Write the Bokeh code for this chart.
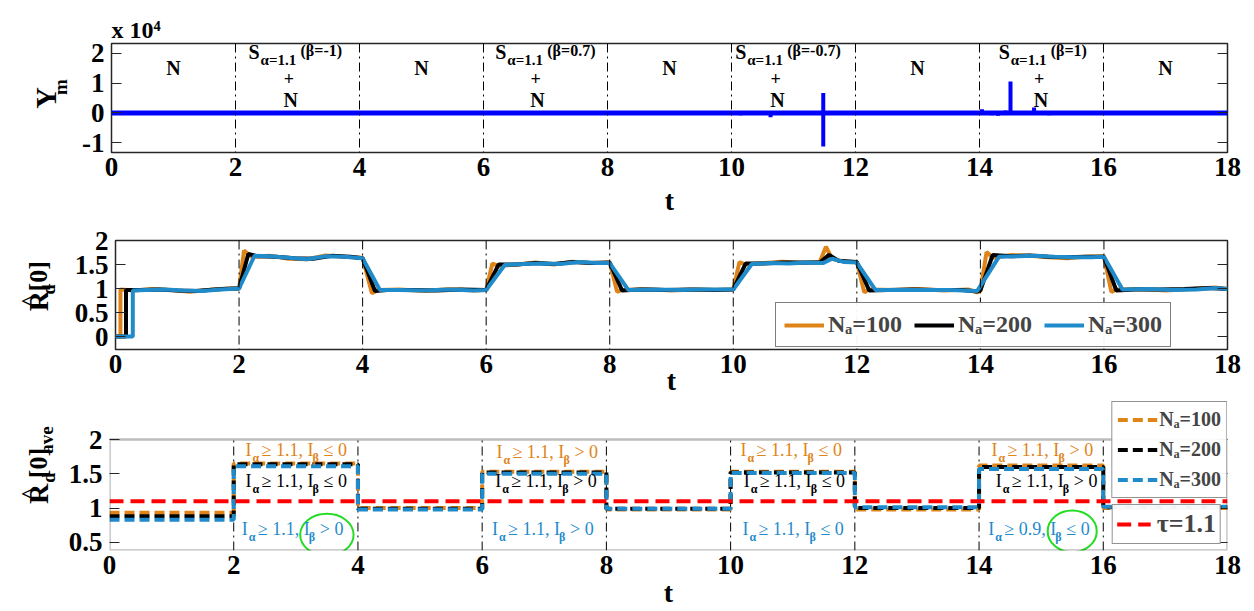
import math
from bokeh.plotting import figure
from bokeh.layouts import column, row
from bokeh.models import (Range1d, LinearAxis, Legend, LegendItem, Span, BoxAnnotation, Title,
                          FixedTicker, NumeralTickFormatter, CustomJSTickFormatter)
from bokeh.core.properties import value
from bokeh.embed import file_html
from bokeh.resources import INLINE

# ---------------- data ----------------
t_ticks = [0, 2, 4, 6, 8, 10, 12, 14, 16, 18]
boundaries = [2, 4, 6, 8, 10, 12, 14, 16]

# panel 1 : Y_m  (units of 10^4)
ym_ticks = [-1, 0, 1, 2]
ym_base_t = [0, 18]
ym_base_v = [0, 0]
spike_t = [6.05, 6.12, 6.2, 6.9, 7.0, 7.15, 7.3, 7.45, 7.6, 7.75, 7.95,
           10.15, 10.3, 10.45, 10.63, 10.8, 11.48,
           14.04, 14.2, 14.3, 14.42, 14.5, 14.6, 14.88, 15.0, 15.12, 15.55, 15.75, 15.9]
spike_lo = [-0.06, -0.05, -0.06, -0.05, -0.06, -0.07, -0.05, -0.06, -0.05, -0.06, -0.05,
            -0.08, -0.05, -0.06, -0.15, -0.07, -1.13,
            0.0, -0.08, -0.1, 0.0, 0.0, -0.06, 0.0, -0.06, -0.08, -0.07, -0.07, -0.05]
spike_hi = [0.02, 0.0, 0.02, 0.03, 0.0, 0.02, 0.0, 0.02, 0.0, 0.02, 0.03,
            0.0, 0.02, 0.0, 0.0, 0.02, 0.67,
            0.12, 0.0, 0.0, 0.08, 1.05, 0.0, 0.18, 0.0, 0.0, 0.0, 0.0, 0.02]
n_label_t = [1, 5, 9, 13, 17]
s_label_t = [2.21, 6.19, 10.06, 14.31]
s_beta = ["(β=-1)", "(β=0.7)", "(β=-0.7)", "(β=1)"]

# panel 2 : R_d[0]
rd_ticks = [0, 0.5, 1, 1.5, 2]
t_100 = [0, 0.08, 0.08, 0.3, 0.6, 0.9, 1.2, 1.5, 1.8, 2.0, 2.08, 2.2, 2.5, 2.8, 3.1, 3.4, 3.7, 4.0, 4.15, 4.25,
         4.6, 5.0, 5.4, 5.8, 6.0, 6.1, 6.2, 6.5, 6.8, 7.1, 7.4, 7.7, 8.0, 8.12, 8.2, 8.6, 9.0, 9.4, 9.8, 10.0,
         10.1, 10.2, 10.5, 10.8, 11.1, 11.4, 11.5, 11.6, 11.8, 12.0, 12.12, 12.2, 12.6, 13.0, 13.4, 13.8, 13.95, 14.0, 14.1, 14.2,
         14.5, 14.8, 15.1, 15.4, 15.7, 16.0, 16.12, 16.2, 16.6, 17.0, 17.4, 17.8, 18.0]
r_100 = [0, 0, 0.98, 0.96, 0.99, 0.97, 0.93, 0.97, 1.0, 1.0, 1.79, 1.66, 1.68, 1.62, 1.61, 1.69, 1.66, 1.64, 0.90, 0.97,
         0.98, 0.95, 0.99, 0.96, 0.97, 1.52, 1.47, 1.50, 1.54, 1.50, 1.56, 1.53, 1.54, 0.93, 0.97, 0.99, 0.96, 0.98, 0.97, 0.98,
         1.55, 1.50, 1.53, 1.56, 1.53, 1.55, 1.87, 1.62, 1.56, 1.55, 0.92, 0.98, 0.97, 0.99, 0.96, 0.98, 0.92, 0.95, 1.76, 1.64,
         1.70, 1.68, 1.65, 1.63, 1.66, 1.67, 0.93, 0.98, 0.99, 0.96, 0.99, 1.02, 0.99]
t_200 = [0, 0.17, 0.17, 0.4, 0.7, 1.0, 1.3, 1.6, 1.9, 2.0, 2.15, 2.3, 2.6, 2.9, 3.2, 3.5, 3.8, 4.0, 4.2, 4.4,
         4.8, 5.2, 5.6, 6.0, 6.2, 6.5, 6.8, 7.1, 7.4, 7.7, 8.0, 8.2, 8.5, 8.9, 9.3, 9.7, 10.0, 10.2, 10.5, 10.8,
         11.1, 11.4, 11.55, 11.7, 12.0, 12.2, 12.5, 12.9, 13.3, 13.7, 13.95, 14.0, 14.2, 14.5, 14.8, 15.1, 15.4, 15.7, 16.0, 16.2,
         16.5, 16.9, 17.3, 17.7, 18.0]
r_200 = [0, 0, 0.97, 0.97, 0.98, 0.96, 0.95, 0.98, 1.0, 1.0, 1.72, 1.67, 1.66, 1.63, 1.62, 1.68, 1.66, 1.63, 0.95, 0.97,
         0.97, 0.96, 0.98, 0.97, 1.50, 1.50, 1.53, 1.51, 1.55, 1.53, 1.54, 0.96, 0.98, 0.97, 0.98, 0.97, 0.98, 1.52, 1.52, 1.54,
         1.54, 1.54, 1.70, 1.58, 1.55, 0.96, 0.97, 0.98, 0.97, 0.97, 0.94, 0.96, 1.70, 1.67, 1.69, 1.66, 1.65, 1.66, 1.66, 0.96,
         0.98, 0.98, 0.99, 1.01, 0.99]
t_300 = [0, 0.28, 0.28, 0.5, 0.8, 1.1, 1.4, 1.7, 2.0, 2.25, 2.5, 2.8, 3.1, 3.4, 3.7, 4.0, 4.28, 4.6, 5.0, 5.4,
         5.8, 6.0, 6.3, 6.6, 6.9, 7.2, 7.5, 7.8, 8.0, 8.3, 8.7, 9.1, 9.5, 10.0, 10.3, 10.6, 10.9, 11.2, 11.45, 11.6,
         11.8, 12.0, 12.3, 12.7, 13.1, 13.5, 13.95, 14.3, 14.6, 14.9, 15.2, 15.5, 15.8, 16.0, 16.3, 16.7, 17.1, 17.5, 17.8, 18.0]
r_300 = [0, 0, 0.96, 0.97, 0.98, 0.96, 0.95, 0.98, 1.0, 1.68, 1.67, 1.64, 1.61, 1.67, 1.66, 1.63, 0.97, 0.97, 0.96, 0.98,
         0.96, 0.97, 1.49, 1.51, 1.52, 1.51, 1.55, 1.53, 1.53, 0.97, 0.98, 0.97, 0.98, 0.98, 1.51, 1.53, 1.52, 1.54, 1.53, 1.62,
         1.55, 1.54, 0.97, 0.97, 0.97, 0.97, 0.95, 1.66, 1.67, 1.68, 1.66, 1.65, 1.65, 1.66, 0.98, 0.99, 0.97, 0.98, 1.01, 0.99]

# panel 3 : R_d[0]_ave (segment averages)
ave_ticks = [0.5, 1, 1.5, 2]
ave_lo, ave_hi = 0.38, 2.0
seg_edges = [0, 2, 4, 6, 8, 10, 12, 14, 16, 18]
ave_100 = [0.93, 1.65, 1.00, 1.53, 0.98, 1.53, 0.98, 1.62, 1.00]
ave_200 = [0.88, 1.64, 0.99, 1.52, 0.99, 1.52, 1.00, 1.60, 1.01]
ave_300 = [0.83, 1.61, 0.98, 1.50, 0.99, 1.51, 1.01, 1.57, 1.02]
tau = 1.1
series_names = ["Nₐ=100", "Nₐ=200", "Nₐ=300"]

cond_x = [2.19, 2.19, 2.13, 6.23, 6.21, 6.16, 10.16, 10.21, 10.19, 14.20, 14.27, 14.15]
cond_y = [1.84, 1.39, 0.69, 1.82, 1.39, 0.69, 1.84, 1.39, 0.69, 1.84, 1.40, 0.69]
cond_alpha = ["1.1"] * 11 + ["0.9"]
cond_beta = ["≤ 0", "≤ 0", "> 0", "> 0", "> 0", "> 0", "≤ 0", "≤ 0", "≤ 0", "> 0", "> 0", "≤ 0"]
ell_x = [3.5, 15.5]
ell_y = [0.61, 0.66]
ell_w = [0.86, 0.79]
ell_h = [0.61, 0.61]

# ---------------- style ----------------
SERIF = "Liberation Serif"
ORANGE = "#DF8419"
BLACK = "#000000"
BLUE = "#1F8BCB"
YBLUE = "#0000FF"
RED = "#FF0000"
GREEN = "#22DD22"
COLORS = [ORANGE, BLACK, BLUE]
FRAME = "#262626"
LABW = 71          # width of the y-label strip
TICKFS = "27px"
ROT = math.pi / 2


def make_fig(w, h, top, bottom, y0, y1, yticks, t_standoff, outline_alpha=1.0, left=40, right=27):
    p = figure(width=w, height=h, x_range=Range1d(0, 18), y_range=Range1d(y0, y1),
               output_backend="svg", toolbar_location=None, title=None,
               min_border_left=left, min_border_right=right,
               min_border_top=top, min_border_bottom=bottom)
    p.xgrid.visible = False
    p.ygrid.visible = False
    p.outline_line_color = FRAME
    p.outline_line_alpha = outline_alpha
    p.outline_line_width = 1.5
    xa = p.xaxis[0]
    xa.ticker = FixedTicker(ticks=t_ticks)
    xa.major_tick_in = 0
    xa.major_tick_out = 0
    xa.minor_tick_in = 0
    xa.minor_tick_out = 0
    xa.axis_line_color = None
    xa.major_label_text_font = SERIF
    xa.major_label_text_font_style = "bold"
    xa.major_label_text_font_size = TICKFS
    xa.major_label_text_color = "black"
    xa.major_label_standoff = 5
    xa.axis_label = "t"
    xa.axis_label_text_font = SERIF
    xa.axis_label_text_font_style = "bold"
    xa.axis_label_text_font_size = "28px"
    xa.axis_label_text_color = "black"
    xa.axis_label_standoff = t_standoff
    ya = p.yaxis[0]
    ya.ticker = FixedTicker(ticks=yticks)
    ya.formatter = NumeralTickFormatter(format="0.[0]")
    ya.major_tick_in = 10
    ya.major_tick_out = 0
    ya.minor_tick_in = 0
    ya.minor_tick_out = 0
    ya.axis_line_color = None
    ya.major_tick_line_color = FRAME
    ya.major_label_text_font = SERIF
    ya.major_label_text_font_style = "bold"
    ya.major_label_text_font_size = TICKFS
    ya.major_label_text_color = "black"
    ya.major_label_standoff = 7
    ra = LinearAxis(ticker=FixedTicker(ticks=yticks), major_tick_in=10, major_tick_out=0,
                    minor_tick_in=0, minor_tick_out=0, axis_line_color=None,
                    major_tick_line_color=FRAME,
                    formatter=CustomJSTickFormatter(code="return ''"))
    p.add_layout(ra, "right")
    return p


def label_strip(w, h):
    q = figure(width=w, height=h, x_range=Range1d(0, w), y_range=Range1d(0, h),
               output_backend="svg", toolbar_location=None, title=None,
               x_axis_location=None, y_axis_location=None, min_border=0)
    q.xgrid.visible = False
    q.ygrid.visible = False
    q.outline_line_color = None
    return q


def vtext(q, x, y, txt, size):
    q.text([x], [y], text=[txt], angle=ROT, text_font=value(SERIF), text_font_style="bold",
           text_font_size=f"{size}px", text_align="center", text_baseline="middle",
           text_color="black")


# ---------------- panel 1 ----------------
H1 = 218
p1 = make_fig(1254 - LABW, H1, 43, 65, -1.33, 2.33, ym_ticks, 6)
for b in boundaries:
    p1.add_layout(Span(location=b, dimension="height", line_color="black",
                       line_width=1, line_dash="9 4 2 4"))
p1.line(ym_base_t, ym_base_v, line_width=5, color=YBLUE)
p1.segment(spike_t, spike_lo, spike_t, spike_hi, line_width=4, color=YBLUE)
p1.text(n_label_t, [1.5] * len(n_label_t), text=["N"] * len(n_label_t),
        text_font=value(SERIF), text_font_style="bold", text_font_size="20px",
        text_align="center", text_baseline="middle", text_color="black")
ns = len(s_label_t)
p1.text(s_label_t, [2.05] * ns, text=["S"] * ns, text_font=value(SERIF), text_font_style="bold",
        text_font_size="20px", text_align="left", text_baseline="middle", text_color="black")
p1.text(s_label_t, [1.77] * ns, text=["α=1.1"] * ns, x_offset=12, text_font=value(SERIF),
        text_font_style="bold", text_font_size="15px", text_align="left", text_baseline="middle",
        text_color="black")
p1.text(s_label_t, [2.08] * ns, text=s_beta, x_offset=52, text_font=value(SERIF),
        text_font_style="bold", text_font_size="16px", text_align="left", text_baseline="middle",
        text_color="black")
p1.text([t + 0.65 for t in s_label_t], [1.17] * ns, text=["+"] * ns, text_font=value(SERIF),
        text_font_style="bold", text_font_size="18px", text_align="center", text_baseline="middle",
        text_color="black")
p1.text([t + 0.68 for t in s_label_t], [0.43] * ns, text=["N"] * ns, text_font=value(SERIF),
        text_font_style="bold", text_font_size="20px", text_align="center", text_baseline="middle",
        text_color="black")
p1.add_layout(Title(text="x 10⁴", align="left", offset=0, standoff=2, text_font=SERIF,
                    text_font_style="bold", text_font_size="24px", text_color="black"), "above")
q1 = label_strip(LABW, H1)
vtext(q1, 45, H1 - 109, "Y", 30)
vtext(q1, 60, H1 - 87, "m", 19)

# ---------------- panel 2 ----------------
H2 = 180
TOP2 = 218
p2 = make_fig(1254 - LABW, H2, 22, 47, -0.27, 2.0, rd_ticks, -11)
for b in boundaries:
    p2.add_layout(Span(location=b, dimension="height", line_color="black",
                       line_width=1, line_dash="9 4 2 4"))
r1 = p2.line(t_100, r_100, line_width=4, color=ORANGE)
r2 = p2.line(t_200, r_200, line_width=4, color=BLACK)
r3 = p2.line(t_300, r_300, line_width=4, color=BLUE)
leg2 = Legend(items=[LegendItem(label=series_names[0], renderers=[r1]),
                     LegendItem(label=series_names[1], renderers=[r2]),
                     LegendItem(label=series_names[2], renderers=[r3])],
              location=(660, 2), orientation="horizontal",
              label_text_font=SERIF, label_text_font_style="bold", label_text_font_size="24px",
              glyph_width=40, glyph_height=20, spacing=12, padding=8, label_standoff=4,
              border_line_color="black", border_line_width=1.5, margin=0)
p2.add_layout(leg2)
q2 = label_strip(LABW, H2)
vtext(q2, 28, TOP2 + H2 - 318, "^", 22)
vtext(q2, 38, TOP2 + H2 - 318, "R", 28)
vtext(q2, 48, TOP2 + H2 - 299, "d", 18)
vtext(q2, 38, TOP2 + H2 - 277, "[0]", 26)

# ---------------- panel 3 ----------------
H3 = 213
TOP3 = 398
FT3 = 3            # top border of panel 3 (frame starts above the visible box)
LABW3 = 65         # this panel's left axis is wider, so its label strip is narrower
# the visible axes box is [0,18]x[ave_lo,ave_hi]; the frame reaches higher to host the legend
ytop3 = ave_hi + (439 - TOP3 - FT3) / ((550 - 439) / (ave_hi - ave_lo))
p3 = make_fig(1254 - LABW3, H3, FT3, 61, ave_lo, ytop3, ave_ticks, 0, outline_alpha=0.0,
              left=40, right=27)
p3.add_layout(BoxAnnotation(left=0, right=18, bottom=ave_lo, top=ave_hi, fill_alpha=0,
                            line_color=FRAME, line_width=2.5))
p3.segment(boundaries, [ave_lo] * len(boundaries), boundaries, [ave_hi] * len(boundaries),
           line_color="black", line_width=1, line_dash="9 4 2 4")
sr = []
for lev, col in zip([ave_100, ave_200, ave_300], COLORS):
    sr.append(p3.step(seg_edges, lev + [lev[-1]], mode="after", line_width=4,
                      line_dash="10 5", color=col))
rt = p3.line([0, 18], [tau, tau], line_width=4, line_dash="14 7", color=RED)
p3.ellipse(ell_x, ell_y, width=ell_w, height=ell_h, fill_color=None,
           line_color=GREEN, line_width=2)

cond_col = [COLORS[i % 3] for i in range(len(cond_x))]
main_kw = dict(text_font=value(SERIF), text_font_size="18px", text_align="left",
               text_baseline="middle", text_color=cond_col)
sub_kw = dict(text_font=value(SERIF), text_font_style="bold", text_font_size="12px",
              text_align="left", text_baseline="middle", text_color=cond_col)
nc = len(cond_x)
p3.text(cond_x, cond_y, text=["I"] * nc, x_offset=0, **main_kw)
p3.text(cond_x, cond_y, text=["α"] * nc, x_offset=7, y_offset=8, **sub_kw)
p3.text(cond_x, cond_y, text=[f"≥ {a}, I" for a in cond_alpha], x_offset=16, **main_kw)
p3.text(cond_x, cond_y, text=["β"] * nc, x_offset=67, y_offset=8, **sub_kw)
p3.text(cond_x, cond_y, text=cond_beta, x_offset=78, **main_kw)

leg3 = Legend(items=[LegendItem(label=series_names[i], renderers=[sr[i]]) for i in range(3)],
              location="top_right", orientation="vertical",
              label_text_font=SERIF, label_text_font_style="bold", label_text_font_size="20px",
              glyph_width=40, glyph_height=25, spacing=5, padding=5, label_standoff=2,
              border_line_color=FRAME, border_line_width=1.5, margin=0)
leg4 = Legend(items=[LegendItem(label="τ=1.1", renderers=[rt])],
              location="bottom_right", orientation="vertical",
              label_text_font=SERIF, label_text_font_style="bold", label_text_font_size="26px",
              glyph_width=34, glyph_height=22, padding=4, label_standoff=6,
              border_line_color=FRAME, border_line_width=1.5, margin=6)
p3.add_layout(leg3)
p3.add_layout(leg4)
q3 = label_strip(LABW3, H3)
vtext(q3, 28, TOP3 + H3 - 530, "^", 22)
vtext(q3, 38, TOP3 + H3 - 530, "R", 28)
vtext(q3, 48, TOP3 + H3 - 507, "d", 18)
vtext(q3, 38, TOP3 + H3 - 486, "[0]", 26)
vtext(q3, 46, TOP3 + H3 - 453, "ave", 19)

layout = column(row(q1, p1, spacing=0), row(q2, p2, spacing=0), row(q3, p3, spacing=0), spacing=0)
open("out.html", "w").write(file_html(layout, INLINE))
